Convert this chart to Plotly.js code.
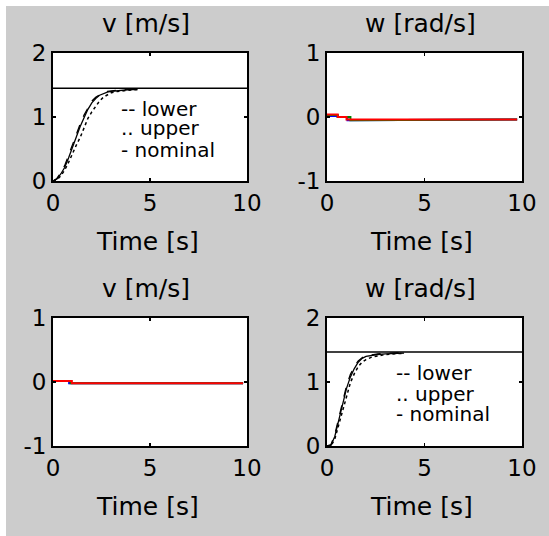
<!DOCTYPE html>
<html>
<head>
<meta charset="utf-8">
<script src="https://cdn.plot.ly/plotly-3.0.1.min.js"></script>
<style>
html,body{margin:0;padding:0;background:#ffffff;width:549px;height:536px;overflow:hidden;}
#chart{position:absolute;left:6px;top:6px;width:543px;height:530px;}
</style>
</head>
<body>
<div id="chart"></div>
<script>
// ---------- data ----------
var panelTitles = ["v [m/s]", "w [rad/s]", "v [m/s]", "w [rad/s]"];
var xTitle = "Time [s]";
var legendLabels = ["-- lower", ".. upper", "- nominal"];
var xTicks = [0, 5, 10];
var xTickText = ["0", "5", "10"];
var yTicksStep = [0, 1, 2];
var yTickTextStep = ["0", "1", "2"];
var yTicksFlat = [-1, 0, 1];
var yTickTextFlat = ["-1", "0", "1"];

// top-left: v response to v step
var tStepV = [0, 0.2, 0.4, 0.6, 0.8, 1.0, 1.2, 1.4, 1.6, 1.8, 2.0, 2.2, 2.4, 2.6, 2.8, 3.0, 3.3, 3.6, 4.0, 4.35];
var vNominal = [0, 0.03, 0.11, 0.21, 0.36, 0.53, 0.69, 0.85, 0.99, 1.12, 1.22, 1.29, 1.34, 1.37, 1.39, 1.40, 1.41, 1.42, 1.43, 1.43];
var vLower   = [0, 0.04, 0.13, 0.24, 0.40, 0.57, 0.73, 0.89, 1.03, 1.15, 1.25, 1.31, 1.35, 1.38, 1.40, 1.41, 1.42, 1.43, 1.44, 1.44];
var vUpper   = [0, 0.02, 0.08, 0.17, 0.29, 0.43, 0.56, 0.68, 0.84, 0.98, 1.08, 1.17, 1.25, 1.31, 1.35, 1.38, 1.40, 1.41, 1.42, 1.43];
var vRefT = [0, 10];
var vRef = [1.45, 1.45];

// top-right: w response to v step
var tWRed = [0, 0.55, 0.55, 1.0, 1.0, 9.75];
var wRed  = [0.04, 0.04, 0.0, 0.0, -0.04, -0.04];
var tWBlue = [0, 0.55, 0.55, 1.05, 1.05, 1.2, 1.2, 9.75];
var wBlue  = [0.015, 0.015, 0.0, 0.0, -0.05, -0.05, -0.04, -0.04];
var tWGreen = [0, 0.55, 0.55, 1.2, 1.2, 1.45, 1.45, 9.75];
var wGreen  = [0.03, 0.03, 0.0, 0.0, -0.05, -0.05, -0.04, -0.04];

// bottom-left: v response to w step
var tVRed = [0, 0.97, 0.97, 9.8];
var vRed  = [0.015, 0.015, -0.02, -0.02];
var tVBlue = [0, 0.83, 0.83, 9.8];
var vBlue  = [0.015, 0.015, -0.02, -0.02];
var tVGreen = [0, 0.9, 0.9, 9.8];
var vGreen  = [0.015, 0.015, -0.02, -0.02];

// bottom-right: w response to w step
var tStepW = [0, 0.2, 0.4, 0.6, 0.8, 1.0, 1.2, 1.4, 1.6, 1.8, 2.0, 2.3, 2.6, 3.0, 3.5, 3.95];
var wNominal = [0, 0.01, 0.15, 0.39, 0.64, 0.90, 1.08, 1.21, 1.31, 1.37, 1.40, 1.42, 1.43, 1.44, 1.45, 1.45];
var wLower   = [0, 0.02, 0.18, 0.43, 0.69, 0.94, 1.12, 1.24, 1.33, 1.38, 1.41, 1.43, 1.44, 1.45, 1.45, 1.46];
var wUpper   = [0, 0.00, 0.11, 0.33, 0.56, 0.80, 0.99, 1.13, 1.24, 1.31, 1.35, 1.39, 1.41, 1.43, 1.44, 1.45];
var wRefT = [0, 10];
var wRef = [1.47, 1.47];

// legend text anchor positions (data coords) per step panel
var legendX = [3.45, 3.5];
var legendYV = [1.12, 0.83, 0.48];
var legendYW = [1.14, 0.82, 0.50];

// ---------- build ----------
var FONT = "DejaVu Sans";
function line(x, y, xa, ya, color, dash, width) {
  return {x: x, y: y, xaxis: xa, yaxis: ya, type: "scatter", mode: "lines",
          line: {color: color, dash: dash || "solid", width: width || 1.5},
          hoverinfo: "skip", showlegend: false};
}
var traces = [
  line(vRefT, vRef, "x", "y", "#000", "solid", 1.5),
  line(tStepV, vLower, "x", "y", "#000", "dash", 1.3),
  line(tStepV, vUpper, "x", "y", "#000", "dot", 1.5),
  line(tStepV, vNominal, "x", "y", "#000", "solid", 1.3),

  line(tWBlue, wBlue, "x2", "y2", "#0000ff", "solid", 2),
  line(tWGreen, wGreen, "x2", "y2", "#008000", "solid", 2),
  line(tWRed, wRed, "x2", "y2", "#ff0000", "solid", 2),

  line(tVBlue, vBlue, "x3", "y3", "#0000ff", "solid", 2),
  line(tVGreen, vGreen, "x3", "y3", "#008000", "solid", 2),
  line(tVRed, vRed, "x3", "y3", "#ff0000", "solid", 2),

  line(wRefT, wRef, "x4", "y4", "#000", "solid", 1.5),
  line(tStepW, wLower, "x4", "y4", "#000", "dash", 1.3),
  line(tStepW, wUpper, "x4", "y4", "#000", "dot", 1.5),
  line(tStepW, wNominal, "x4", "y4", "#000", "solid", 1.3)
];

function xaxis(domain, anchor) {
  return {domain: domain, anchor: anchor, range: [0, 10], tickvals: xTicks, ticktext: xTickText,
    showgrid: false, zeroline: false, showline: true, mirror: "ticks",
    linecolor: "#000", linewidth: 2, ticks: "inside", ticklen: 3, tickwidth: 1.5, tickcolor: "#000",
    tickfont: {family: FONT, size: 23, color: "#000"}, fixedrange: true};
}
function yaxis(domain, anchor, ticks, text) {
  return {domain: domain, anchor: anchor, range: [ticks[0], ticks[ticks.length - 1]], tickvals: ticks, ticktext: text,
    showgrid: false, zeroline: false, showline: true, mirror: "ticks",
    linecolor: "#000", linewidth: 2, ticks: "inside", ticklen: 3, tickwidth: 1.5, tickcolor: "#000",
    tickfont: {family: FONT, size: 23, color: "#000"}, fixedrange: true};
}
var xdL = [0.0866, 0.4438], xdR = [0.5912, 0.9503];
var ydT = [0.6698, 0.9113], ydB = [0.1698, 0.4113];

var annotations = [];
var axesIds = [["x", "y"], ["x2", "y2"], ["x3", "y3"], ["x4", "y4"]];
for (var i = 0; i < 4; i++) {
  annotations.push({text: panelTitles[i], xref: axesIds[i][0] + " domain", yref: axesIds[i][1] + " domain",
    x: 0.5, y: 1, xanchor: "center", yanchor: "middle", yshift: 30, xshift: -4, showarrow: false,
    font: {family: FONT, size: 25, color: "#000"}});
  annotations.push({text: xTitle, xref: axesIds[i][0] + " domain", yref: axesIds[i][1] + " domain",
    x: 0.5, y: 0, xanchor: "center", yanchor: "middle", yshift: -60, xshift: -3, showarrow: false,
    font: {family: FONT, size: 25, color: "#000"}});
}
for (var k = 0; k < 3; k++) {
  annotations.push({text: legendLabels[k], xref: "x", yref: "y", x: legendX[0], y: legendYV[k],
    xanchor: "left", yanchor: "middle", showarrow: false, borderpad: 0,
    font: {family: FONT, size: 20, color: "#000"}});
  annotations.push({text: legendLabels[k], xref: "x4", yref: "y4", x: legendX[1], y: legendYW[k],
    xanchor: "left", yanchor: "middle", showarrow: false, borderpad: 0,
    font: {family: FONT, size: 20, color: "#000"}});
}

var layout = {
  width: 543, height: 530,
  margin: {l: 0, r: 0, t: 0, b: 0, pad: 0},
  paper_bgcolor: "#cccccc", plot_bgcolor: "#ffffff",
  showlegend: false,
  xaxis: xaxis(xdL, "y"), yaxis: yaxis(ydT, "x", yTicksStep, yTickTextStep),
  xaxis2: xaxis(xdR, "y2"), yaxis2: yaxis(ydT, "x2", yTicksFlat, yTickTextFlat),
  xaxis3: xaxis(xdL, "y3"), yaxis3: yaxis(ydB, "x3", yTicksFlat, yTickTextFlat),
  xaxis4: xaxis(xdR, "y4"), yaxis4: yaxis(ydB, "x4", yTicksStep, yTickTextStep),
  annotations: annotations
};
Plotly.newPlot("chart", traces, layout, {displayModeBar: false, staticPlot: true});
</script>
</body>
</html>
